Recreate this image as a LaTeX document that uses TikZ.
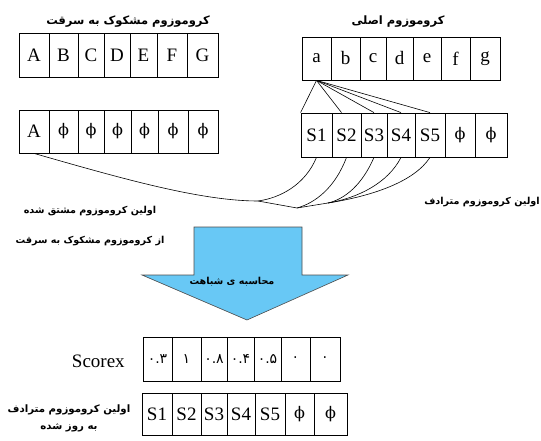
\documentclass[tikz,border=0pt]{standalone}
\usepackage{fontspec}
\setmainfont{Liberation Serif}
\newfontfamily\fa[Script=Arabic, BoldFont={DejaVu Sans Bold}]{DejaVu Sans}
\newfontfamily\grk{DejaVu Serif}
\TeXXeTstate=1
\usepackage{tikz}
\definecolor{arrowblue}{RGB}{104,200,245}
\newcommand{\farsi}[1]{\beginR #1\endR}
\newcommand{\ph}{{\grk\fontsize{16}{18}\selectfont ϕ}}
\tikzset{cell/.style={draw, rectangle, inner sep=0pt, line width=0.8pt, font=\fontsize{19}{22}\selectfont},
  fatext/.style={font=\fontsize{11.5}{14}\fa\bfseries, inner sep=0pt, align=center},
  fasmall/.style={fatext, font=\fontsize{9.6}{14}\fa\bfseries},
  digit/.style={font=\fontsize{14}{16}\fa}}

\begin{document}
\begin{tikzpicture}[x=1pt, y=-1pt, line width=0.6pt]
  \useasboundingbox (0,0) rectangle (541,441);
  \node [fatext] (t1) at (128,22) {\farsi{کروموزوم مشکوک به سرقت}};
  \node [fatext] (t2) at (398,22) {\farsi{کروموزوم اصلی}};
    \foreach \xl/\xr/\txt [count=\i] in {19/49/A, 49/78/B, 78/104/C, 104/130/D, 130/157/E, 157/187/F, 187/218/G} {
      \pgfmathsetmacro{\cw}{\xr-\xl}
      \pgfmathsetmacro{\xm}{(\xl+\xr)/2}
      \node [cell, minimum width=\cw pt, minimum height=44pt] (s\i) at (\xm,55) {\txt};
    }
    \foreach \xl/\xr/\txt [count=\i] in {19/49/A, 49/78/\ph, 78/104/\ph, 104/131/\ph, 131/158/\ph, 158/188/\ph, 188/218/\ph} {
      \pgfmathsetmacro{\cw}{\xr-\xl}
      \pgfmathsetmacro{\xm}{(\xl+\xr)/2}
      \node [cell, minimum width=\cw pt, minimum height=43pt] (d\i) at (\xm,131.5) {\txt};
    }
    \foreach \xl/\xr/\txt [count=\i] in {302/331/a, 331/360/b, 360/386/c, 386/413/d, 413/441/e, 441/470/f, 470/500/g} {
      \pgfmathsetmacro{\cw}{\xr-\xl}
      \pgfmathsetmacro{\xm}{(\xl+\xr)/2}
      \node [cell, minimum width=\cw pt, minimum height=43pt] (o\i) at (\xm,58.5) {\txt};
    }
    \foreach \xl/\xr/\txt [count=\i] in {301/332/S1, 332/361/S2, 361/387/S3, 387/415/S4, 415/445/S5, 445/475/\ph, 475/507/\ph} {
      \pgfmathsetmacro{\cw}{\xr-\xl}
      \pgfmathsetmacro{\xm}{(\xl+\xr)/2}
      \node [cell, minimum width=\cw pt, minimum height=44pt] (y\i) at (\xm,135) {\txt};
    }
    \foreach \xl/\xr/\txt [count=\i] in {143/172/۰.۳, 172/201/۱, 201/227/۰.۸, 227/254/۰.۴, 254/281/۰.۵, 281/310/۰, 310/340/۰} {
      \pgfmathsetmacro{\cw}{\xr-\xl}
      \pgfmathsetmacro{\xm}{(\xl+\xr)/2}
      \node [cell, digit, minimum width=\cw pt, minimum height=44pt] (c\i) at (\xm,359) {\txt};
    }
    \foreach \xl/\xr/\txt [count=\i] in {142/172/S1, 172/201/S2, 201/227/S3, 227/255/S4, 255/285/S5, 285/314/\ph, 314/347/\ph} {
      \pgfmathsetmacro{\cw}{\xr-\xl}
      \pgfmathsetmacro{\xm}{(\xl+\xr)/2}
      \node [cell, minimum width=\cw pt, minimum height=42pt] (u\i) at (\xm,414) {\txt};
    }
  \draw (o1.south) -- (y1.north west);
  \draw (o1.south) -- ([xshift=-5pt]y2.north);
  \foreach \i in {3,4,5} {
    \draw (o1.south) -- (y\i.north);
  }
  \coordinate (m1) at (258,201);
  \coordinate (m2) at (297,208);
  \coordinate (m3) at (328,203);
  \draw (d1.south) .. controls (120,178) and (200,201) .. (m1) -- (m2);
  \draw (y1.south) .. controls (305,185) and (280,198) .. (m1);
  \draw (y2.south) .. controls (335,188) and (315,203) .. (m2);
  \draw (y3.south) .. controls (362,185) and (345,199) .. (m3);
  \draw (y4.south) .. controls (388,183) and (358,198) .. (m3);
  \draw (y5.south) .. controls (414,182) and (372,196) .. (m3);
  \draw (m3) -- (m2);
  \node [fasmall] (syn) at (482,202) {\farsi{اولین کروموزوم مترادف}};
  \node [fasmall] (der) at (90,226) {\farsi{اولین کروموزوم مشتق شده}\\[16pt]\farsi{از کروموزوم مشکوک به سرقت}};
  \draw [fill=arrowblue, draw=black!70] (194,227) -- (302,227) -- (302,275) -- (348,275) -- (247,320) -- (142,275) -- (194,275) -- cycle;
  \node [fasmall] (sim) at (232,282) {\farsi{محاسبه ی شباهت}};
  \node [anchor=east, inner sep=0pt, font=\fontsize{19}{22}\selectfont] (scx) at (125,361) {Scorex};
  \node [fasmall, font=\fontsize{10.2}{14}\fa\bfseries] (upd) at (69,418) {\farsi{اولین کروموزوم مترادف}\\[3pt]\farsi{به روز شده}};
\end{tikzpicture}
\end{document}
